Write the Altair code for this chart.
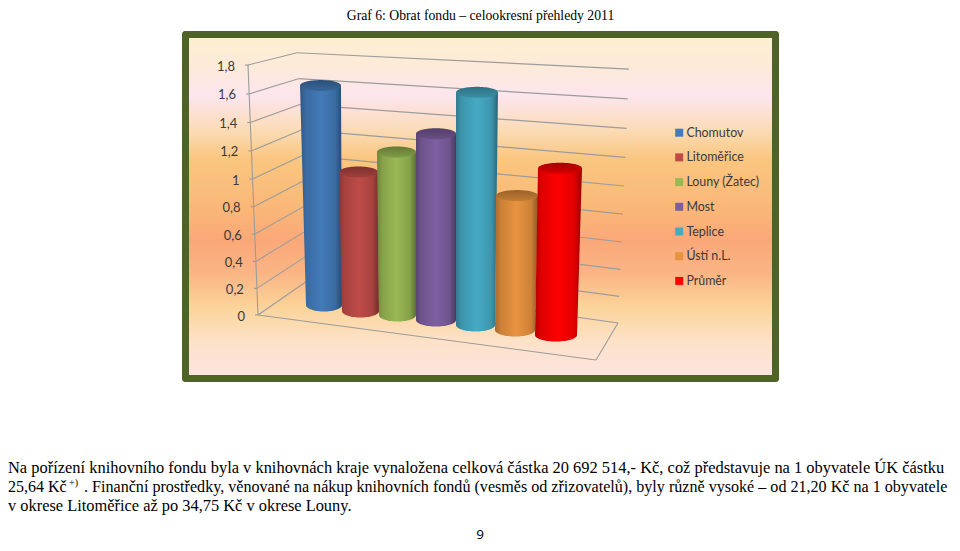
import math
import altair as alt
import pandas as pd

# ---- data ----
series = ["Chomutov", "Litoměřice", "Louny (Žatec)", "Most", "Teplice", "Ústí n.L.", "Průměr"]
values = [1.65, 1.03, 1.19, 1.34, 1.65, 0.94, 1.15]
colors = ["#437AB8", "#BE4B48", "#98B954", "#7D5FA0", "#46AAC5", "#E8933F", "#FF0000"]
tick_values = [1.8, 1.6, 1.4, 1.2, 1.0, 0.8, 0.6, 0.4, 0.2, 0.0]
tick_labels = ["1,8", "1,6", "1,4", "1,2", "1", "0,8", "0,6", "0,4", "0,2", "0"]

title_text = "Graf 6: Obrat fondu – celookresní přehledy 2011"
line1 = "Na pořízení knihovního fondu byla v knihovnách kraje vynaložena celková částka 20 692 514,- Kč, což představuje na 1 obyvatele ÚK částku"
line2a = "25,64 Kč"
line2b = "+)"
line2c = ". Finanční prostředky, věnované na nákup knihovních fondů (vesměs od zřizovatelů), byly různě vysoké – od 21,20 Kč na 1 obyvatele"
line3 = "v okrese Litoměřice až po 34,75 Kč v okrese Louny."
page_no = "9"

# ---- projection of the 3D chart box ----
base_y = [305, 311, 315, 320, 325, 330, 335]
unit_y = [133, 135, 137, 139, 141, 143, 145]
top_l = [300, 339, 377, 416, 456, 496, 538]
top_r = [341, 378, 416, 456, 498, 538, 582]
bot_l = [306, 342, 379, 416, 456, 495, 535]
bot_r = [342, 379, 416, 456, 495, 535, 577]

def front_pt(v): return 258 - 10 * v / 1.8, 315 - 132.4 * v - 3.6 * v * v
def back_pt(v): return 310 - 13 * v / 1.8, 279 - 121.2 * v - 2.5 * v * v
def right_pt(v): return 618 + 11 * v / 1.8, 323 - 131.9 * v - 5.1 * v * v

X = alt.Scale(domain=[8, 952], range=[0, 944])
Y = alt.Scale(domain=[8, 543], range=[0, 535])
xq = lambda f: alt.X(f, type="quantitative", scale=X, axis=None)
yq = lambda f: alt.Y(f, type="quantitative", scale=Y, axis=None)
x2q = lambda f: alt.X2(f)
y2q = lambda f: alt.Y2(f)

def shade(hex_color, k):
    r, g, b = (int(hex_color[i:i + 2], 16) for i in (1, 3, 5))
    return "#%02x%02x%02x" % (min(255, int(r * k)), min(255, int(g * k)), min(255, int(b * k)))

def grad(stops, horizontal=False):
    return alt.LinearGradient(
        gradient="linear",
        stops=[alt.GradientStop(offset=o, color=c) for o, c in stops],
        x1=0, y1=0, x2=1 if horizontal else 0, y2=0 if horizontal else 1,
    )

def rect(x0, y0, x1, y1, **kw):
    d = pd.DataFrame([{"x": x0, "y": y0, "x2": x1, "y2": y1}])
    return alt.Chart(d).mark_rect(**kw).encode(xq("x"), yq("y"), x2q("x2"), y2q("y2"))

def segs(rows, **kw):
    d = pd.DataFrame(rows, columns=["x", "y", "x2", "y2"])
    return alt.Chart(d).mark_rule(**kw).encode(xq("x"), yq("y"), x2q("x2"), y2q("y2"))

def txt(s, x, y, size, font, color="#000000", align="left"):
    d = pd.DataFrame([{"x": x, "y": y, "t": s}])
    return alt.Chart(d).mark_text(fontSize=size, font=font, color=color, align=align,
                                  baseline="alphabetic").encode(xq("x"), yq("y"), text="t:N")

layers = []

# frame and panel
layers.append(rect(182, 31, 779, 382, color="#4F6228", cornerRadius=3))
stops = [(0.0, "#FDEFD0"), (0.09, "#FDEADA"), (0.17, "#FDE5EE"), (0.27, "#FBDCB8"),
         (0.36, "#FAC67F"), (0.50, "#FAB878"), (0.60, "#FBA878"), (0.70, "#FBB585"),
         (0.80, "#FBD49A"), (0.90, "#FDE2C8"), (1.0, "#FDE3E0")]
layers.append(rect(189, 38, 772, 375, color=grad(stops)))

# walls, floor, ticks
line_col = "#9C9C9C"
back = [(*back_pt(v), *right_pt(v)) for v in tick_values]
side = [(*front_pt(v), *back_pt(v)) for v in tick_values]
stubs = [(front_pt(v)[0] - 3, front_pt(v)[1], *front_pt(v)) for v in tick_values]
axis_line = [(*front_pt(1.8), *front_pt(0.0))]
floor_rows = [(*front_pt(0.0), 596, 360), (596, 360, *right_pt(0.0))]
layers.append(segs(back, color=line_col, strokeWidth=1.2))
layers.append(segs(side + stubs + axis_line + floor_rows, color=line_col, strokeWidth=1.1))

# tick labels
for v, lab in zip(tick_values, tick_labels):
    fx, fy = front_pt(v)
    layers.append(txt(lab, fx - 13, fy + 5.5, 13, "Lato", "#3A3A3A", "right"))

# cylinders
for i, (name, val, col) in enumerate(zip(series, values, colors)):
    yb = base_y[i]
    yt = yb - val * unit_y[i]
    rows = []
    n = 12
    for k in range(n + 1):
        f = k / n
        rows.append({"y": yt + (yb - yt) * f,
                     "xl": top_l[i] + (bot_l[i] - top_l[i]) * f,
                     "xr": top_r[i] + (bot_r[i] - top_r[i]) * f})
    cx = (bot_l[i] + bot_r[i]) / 2
    hw = (bot_r[i] - bot_l[i]) / 2
    for k in range(1, 19):
        a = math.radians(k * 5)
        rows.append({"y": yb + 6.5 * math.sin(a), "xl": cx - hw * math.cos(a), "xr": cx + hw * math.cos(a)})
    body = grad([(0, shade(col, 0.72)), (0.14, shade(col, 0.88)), (0.5, col),
                 (0.84, shade(col, 0.88)), (1, shade(col, 0.60))], horizontal=True)
    layers.append(alt.Chart(pd.DataFrame(rows)).mark_area(orient="horizontal", color=body, line=False)
                  .encode(yq("y"), xq("xl"), x2q("xr")))
    cx_t = (top_l[i] + top_r[i]) / 2
    hw_t = (top_r[i] - top_l[i]) / 2
    cap = []
    for k in range(-18, 19):
        a = math.radians(k * 5)
        cap.append({"y": yt + 5.5 * math.sin(a), "xl": cx_t - hw_t * math.cos(a), "xr": cx_t + hw_t * math.cos(a)})
    cap_fill = grad([(0, shade(col, 0.66)), (1, shade(col, 0.84))])
    layers.append(alt.Chart(pd.DataFrame(cap)).mark_area(orient="horizontal", color=cap_fill, line=False)
                  .encode(yq("y"), xq("xl"), x2q("xr")))

# real legend, fed by an invisible layer
leg = pd.DataFrame({"s": series, "x": [700] * 7, "y": [200] * 7})
layers.append(alt.Chart(leg).mark_point(filled=True, opacity=0, shape="square").encode(
    xq("x"), yq("y"),
    color=alt.Color("s:N", scale=alt.Scale(domain=series, range=colors),
                    legend=alt.Legend(orient="none", legendX=665, legendY=118.5, title=None,
                                      symbolType="square", symbolSize=64, symbolOpacity=1,
                                      symbolStrokeWidth=0,
                                      labelFont="Lato", labelFontSize=12.4, labelColor="#3A3A3A",
                                      labelOffset=1, rowPadding=11.7, padding=0, offset=0,
                                      labelLimit=200)),
))

# document text
SERIF = "Liberation Serif"
layers.append(txt(title_text, 480.5, 20, 13.7, SERIF, align="center"))
layers.append(txt(line1, 8, 472.5, 16.45, SERIF))
layers.append(txt(line2a, 8, 491.5, 16, SERIF))
layers.append(txt(line2b, 69, 486, 10, SERIF))
layers.append(txt(line2c, 84, 491.5, 16.1, SERIF))
layers.append(txt(line3, 8, 510.5, 16.4, SERIF))
layers.append(txt(page_no, 480, 539, 13.5, "Open Sans", align="center"))

chart = alt.layer(*layers).properties(
    width=944, height=535, padding=0, autosize=alt.AutoSizeParams(type="none"), background="white"
).configure_view(stroke=None)

chart.save("out.html", embed_options={"renderer": "svg", "actions": False})
